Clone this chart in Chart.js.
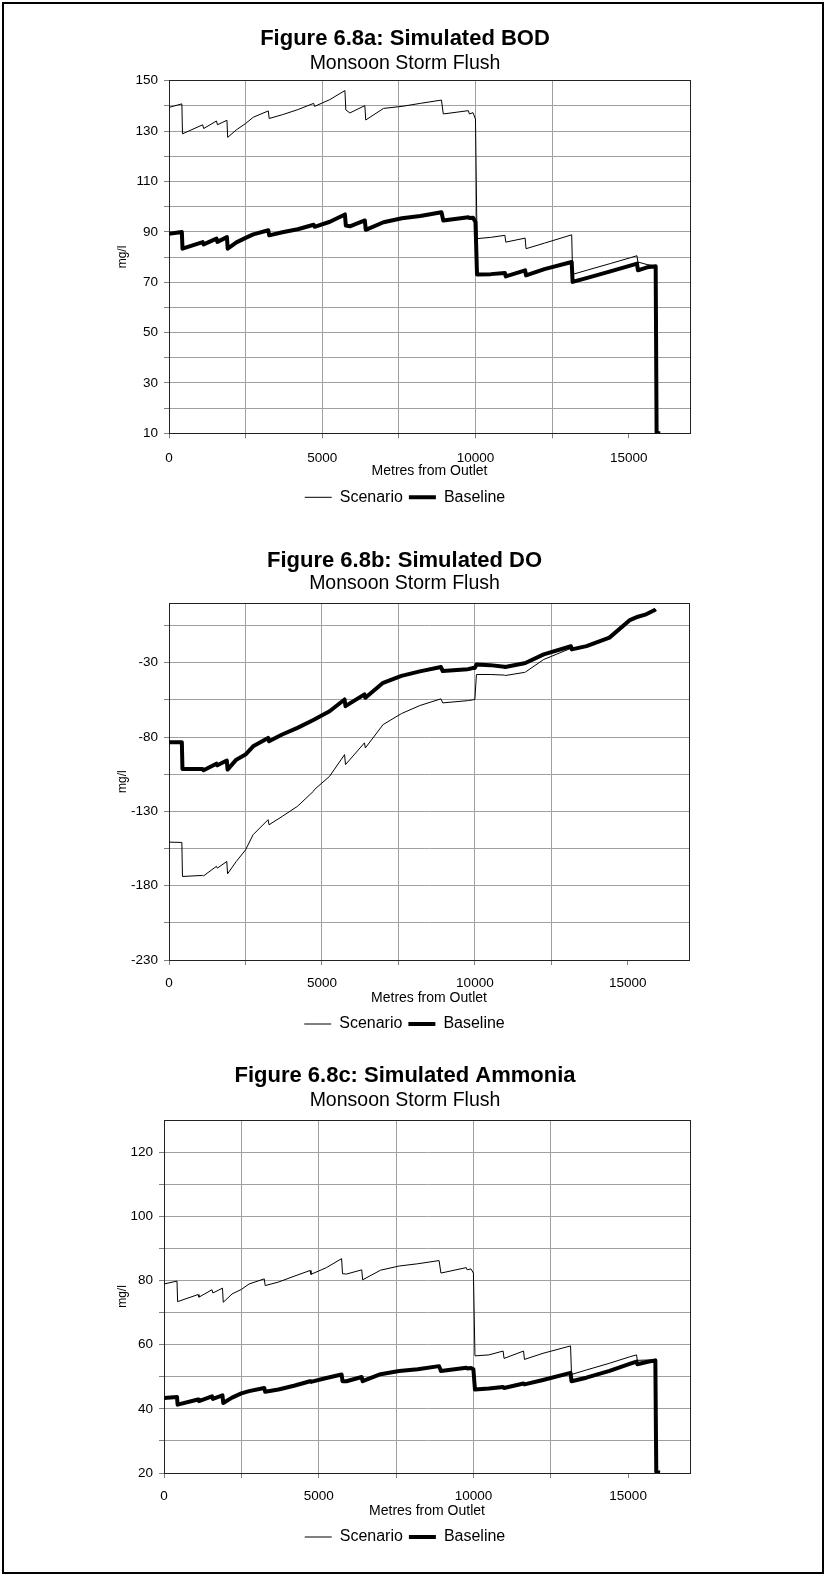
<!DOCTYPE html>
<html><head><meta charset="utf-8">
<script src="https://cdn.jsdelivr.net/npm/chart.js@4.4.0/dist/chart.umd.min.js"></script>
<style>
html,body{margin:0;padding:0;background:#fff;}
body{width:827px;height:1576px;position:relative;overflow:hidden;}
#frame{position:absolute;left:2px;top:2px;width:818px;height:1568px;border:2px solid #000;}
canvas{position:absolute;left:0;}
</style></head><body>
<div id="frame"></div>
<canvas id="c1" width="827" height="520" style="top:0px"></canvas>
<canvas id="c2" width="827" height="520" style="top:525px"></canvas>
<canvas id="c3" width="827" height="520" style="top:1040px"></canvas>
<script>
// Distance along river (m) — shared by all three figures
const metres = [0, 420, 440, 1100, 1130, 1550, 1580, 1890, 1915, 2200, 2500, 2750, 3240, 3270, 3700, 4200, 4720, 4750, 5250, 5740, 5770, 5900, 6390, 6420, 7000, 7600, 8200, 8890, 8950, 9770, 9800, 9920, 10000, 10050, 10500, 10960, 10990, 11620, 11650, 12250, 13140, 13170, 13650, 14400, 15050, 15270, 15300, 15600, 15880, 15910, 16030];

// Figure 6.8a BOD (mg/l)
const bodScenario = [139.4, 140.8, 128.9, 132.5, 131.0, 134.0, 132.5, 134.3, 127.5, 130.5, 133.0, 135.5, 138.0, 135.0, 136.5, 138.5, 141.0, 139.8, 142.5, 146.1, 138.4, 137.2, 140.1, 134.4, 139.0, 139.8, 141.0, 142.3, 136.8, 138.1, 136.8, 137.3, 134.8, 87.3, 87.8, 88.6, 85.9, 87.5, 83.3, 85.5, 88.8, 73.1, 74.8, 77.4, 79.7, 80.5, 78.0, 77.0, 76.5, 10, 10];
const bodBaseline = [89.2, 89.9, 83.3, 85.9, 85.0, 87.3, 86.0, 87.9, 83.3, 85.8, 87.6, 89.0, 90.6, 88.6, 89.8, 91.0, 92.8, 92.0, 94.0, 96.9, 92.5, 92.2, 94.5, 90.8, 93.8, 95.4, 96.3, 97.8, 94.5, 95.8, 95.5, 95.6, 93.9, 73.1, 73.2, 73.6, 72.3, 74.7, 72.7, 75.2, 78.0, 70.1, 71.7, 74.3, 76.6, 77.4, 74.7, 75.9, 76.3, 10, 10];

// Figure 6.8b DO
const doScenario = [-150.7, -150.9, -173.8, -173.1, -173.4, -167.0, -168.2, -163.7, -172.0, -163.7, -156.0, -145.7, -135.6, -139.0, -133.4, -126.6, -116.5, -115.4, -106.4, -91.8, -98.5, -95.5, -83.9, -87.3, -71.6, -64.2, -58.8, -54.3, -57.0, -55.5, -55.4, -55.0, -54.7, -37.9, -37.9, -38.3, -38.6, -36.5, -36.3, -27.8, -20.3, -21.5, -19.2, -13.4, -1.8, 0.2, 0.5, 2.3, 5.2, 5.8, null];
const doBaseline = [-83.5, -83.5, -101.5, -101.5, -102.3, -97.9, -99.0, -95.8, -101.9, -95.2, -91.8, -86.2, -80.6, -82.8, -78.3, -73.8, -68.5, -68.2, -62.6, -54.7, -59.2, -57.5, -51.3, -53.6, -43.5, -38.8, -35.8, -32.9, -35.6, -34.3, -34.2, -33.6, -33.5, -31.2, -31.6, -32.7, -32.9, -30.3, -30.2, -24.4, -18.9, -21.0, -18.8, -13.1, -1.5, 0.5, 0.8, 2.6, 5.5, 6.0, null];

// Figure 6.8c Ammonia (mg/l)
const nh3Scenario = [78.9, 79.8, 73.4, 75.6, 74.8, 77.1, 76.1, 77.6, 73.2, 75.8, 77.2, 78.9, 80.5, 78.4, 79.5, 81.3, 83.1, 81.9, 84.0, 86.8, 82.1, 82.0, 83.3, 80.2, 83.2, 84.5, 85.2, 86.2, 82.3, 84.0, 83.3, 83.6, 82.3, 56.5, 56.8, 58.0, 55.7, 58.0, 55.4, 57.3, 59.6, 50.7, 52.1, 54.2, 56.2, 56.8, 55.1, 55.2, 55.2, 20.4, 20.2];
const nh3Baseline = [43.4, 43.7, 41.3, 42.9, 42.4, 43.9, 43.1, 44.2, 41.8, 43.5, 44.8, 45.5, 46.5, 45.3, 46.0, 47.2, 48.6, 48.4, 49.6, 50.7, 48.6, 48.6, 49.9, 48.6, 50.8, 51.8, 52.3, 53.3, 51.8, 52.8, 52.6, 52.7, 52.3, 46.0, 46.3, 46.8, 46.5, 47.9, 47.6, 49.0, 51.2, 48.6, 49.7, 51.8, 54.0, 54.7, 53.9, 54.6, 55.1, 20.4, 20.2];

// Tick values and labels
const xTickValues = [0, 2500, 5000, 7500, 10000, 12500, 15000];
const xTickLabels = [0, 5000, 10000, 15000];
const bodTickValues = [10, 20, 30, 40, 50, 60, 70, 80, 90, 100, 110, 120, 130, 140, 150];
const bodTickLabels = [10, 30, 50, 70, 90, 110, 130, 150];
const doTickValues = [-230, -205, -180, -155, -130, -105, -80, -55, -30, -5];
const doTickLabels = [-230, -180, -130, -80, -30];
const nh3TickValues = [20, 30, 40, 50, 60, 70, 80, 90, 100, 110, 120];
const nh3TickLabels = [20, 40, 60, 80, 100, 120];

const FONT = "'Liberation Sans', Arial, Helvetica, sans-serif";

const framePlugin = {
  id: 'plotFrame',
  beforeDatasetsDraw(chart) {
    const a = chart.chartArea, c = chart.ctx;
    const al = v => Math.round(v - 0.5) + 0.5;
    c.save();
    c.strokeStyle = '#222';
    c.lineWidth = 1;
    const l = al(a.left), t = al(a.top), r = al(a.right), b = al(a.bottom);
    c.strokeRect(l, t, r - l, b - t);
    c.restore();
  }
};

function makeChart(id, o) {
  const pts = arr => metres.map((x, i) => ({ x: x, y: arr[i] }));
  return new Chart(document.getElementById(id), {
    type: 'line',
    data: {
      datasets: [
        { label: 'Scenario', data: pts(o.scen), borderColor: '#000', backgroundColor: '#000', borderWidth: 1, pointRadius: 0, tension: 0, spanGaps: false },
        { label: 'Baseline', data: pts(o.base), borderColor: '#000', backgroundColor: '#000', borderWidth: 4, pointRadius: 0, tension: 0, borderJoinStyle: 'round', spanGaps: false }
      ]
    },
    options: {
      responsive: false, animation: false, devicePixelRatio: 1, events: [],
      layout: { padding: { left: 120, right: o.padRight, top: 0, bottom: o.padBottom } },
      plugins: {
        title: { display: true, text: o.title, color: '#000', font: { family: FONT, size: 22, weight: 'bold', lineHeight: 0.9 }, padding: { top: o.titleTop, bottom: o.titleBottom } },
        subtitle: { display: true, text: 'Monsoon Storm Flush', color: '#000', font: { family: FONT, size: 19.5, lineHeight: 1 }, padding: { top: 0, bottom: o.subBottom } },
        legend: { position: 'bottom', labels: { usePointStyle: true, pointStyle: 'line', pointStyleWidth: 27, padding: 6, color: '#000', font: { family: FONT, size: 16 } } },
        tooltip: { enabled: false }
      },
      scales: {
        x: {
          type: 'linear', min: 0, max: 17000,
          afterBuildTicks: s => { s.ticks = xTickValues.map(v => ({ value: v })); },
          afterFit: s => { s.height = 50; },
          ticks: { autoSkip: false, maxRotation: 0, padding: o.xPad, color: '#000', font: { family: FONT, size: 13.5 },
            callback: v => xTickLabels.includes(v) ? String(v) : '' },
          grid: { color: c => (c.tick && c.tick.value === 15000) ? 'rgba(0,0,0,0)' : '#a0a0a0', tickColor: '#808080', tickLength: 5, lineWidth: 1 },
          border: { color: '#222', width: 1 },
          title: { display: true, text: 'Metres from Outlet', color: '#000', font: { family: FONT, size: 14, lineHeight: 1.2 }, padding: { top: 0, bottom: 3.9 } }
        },
        y: {
          type: 'linear', min: o.yMin, max: o.yMax,
          afterBuildTicks: s => { s.ticks = o.yTicks.map(v => ({ value: v })); },
          afterFit: s => { s.width = o.yWidth; },
          ticks: { autoSkip: false, padding: 6, color: '#000', font: { family: FONT, size: 13.5 },
            callback: v => o.yLabels.includes(v) ? String(v) : '' },
          grid: { color: '#a0a0a0', tickColor: '#808080', tickLength: 5, lineWidth: 1 },
          border: { color: '#222', width: 1 },
          title: { display: true, text: 'mg/l', color: '#000', font: { family: FONT, size: 12, lineHeight: 1 }, padding: { top: o.yTitlePad, bottom: 0 } }
        }
      }
    },
    plugins: [framePlugin]
  });
}

makeChart('c1', { title: 'Figure 6.8a: Simulated BOD', scen: bodScenario, base: bodBaseline,
  yMin: 10, yMax: 150, yTicks: bodTickValues, yLabels: bodTickLabels, yWidth: 49, yTitlePad: -3,
  padRight: 137, padBottom: 4.7, titleTop: 28.6, titleBottom: 5, subBottom: 7.8, xPad: 11.5 });
makeChart('c2', { title: 'Figure 6.8b: Simulated DO', scen: doScenario, base: doBaseline,
  yMin: -230, yMax: 10, yTicks: doTickValues, yLabels: doTickLabels, yWidth: 49, yTitlePad: -3,
  padRight: 138, padBottom: 3, titleTop: 26.1, titleBottom: 3, subBottom: 9.9, xPad: 10 });
makeChart('c3', { title: 'Figure 6.8c: Simulated Ammonia', scen: nh3Scenario, base: nh3Baseline,
  yMin: 20, yMax: 130, yTicks: nh3TickValues, yLabels: nh3TickLabels, yWidth: 44, yTitlePad: -3.5,
  padRight: 137, padBottom: 5, titleTop: 26.1, titleBottom: 5, subBottom: 9.6, xPad: 10 });
</script>
</body></html>
